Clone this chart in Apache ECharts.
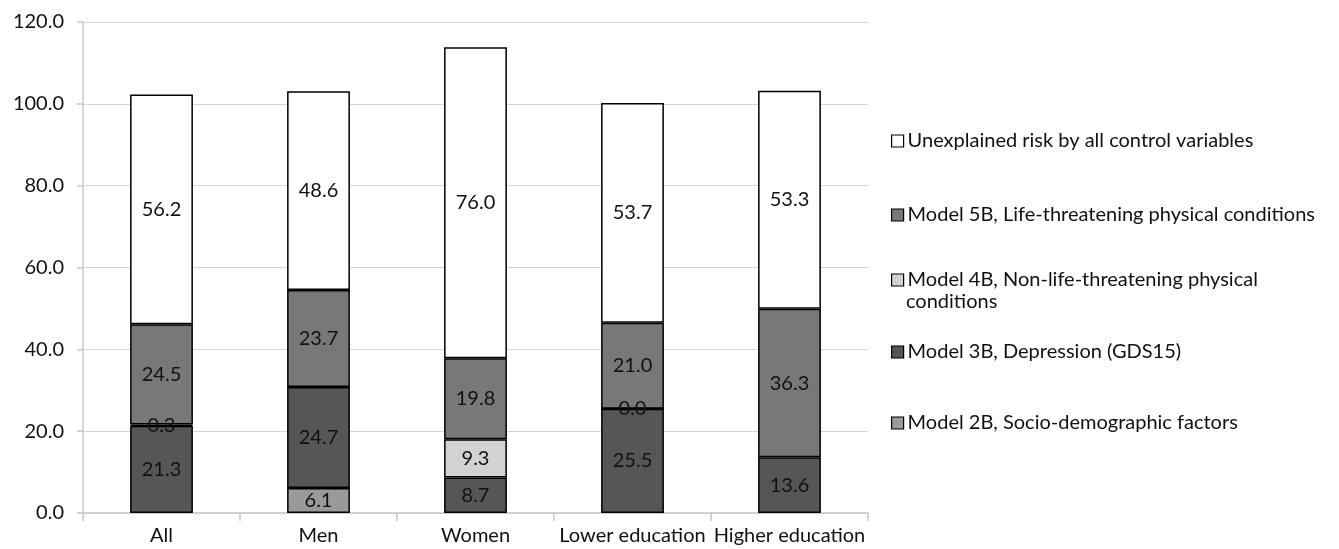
<!DOCTYPE html>
<html>
<head>
<meta charset="utf-8">
<script src="https://cdn.jsdelivr.net/npm/echarts@6/dist/echarts.min.js"></script>
<style>html,body{margin:0;padding:0;background:#fff}#c{width:1339px;height:549px}</style>
</head>
<body>
<div id="c"></div>
<script>
var categories = ['All', 'Men', 'Women', 'Lower education', 'Higher education'];
var socioDemographic = [null, 6.1, null, null, null];
var depression = [21.3, 24.7, 8.7, 25.5, 13.6];
var nonLifeThreatening = [0.3, null, 9.3, 0.0, null];
var lifeThreatening = [24.5, 23.7, 19.8, 21.0, 36.3];
var unexplained = [56.2, 48.6, 76.0, 53.7, 53.3];
var yTicks = [0, 20, 40, 60, 80, 100, 120];

var names = [
  'Model 2B, Socio-demographic factors',
  'Model 3B, Depression (GDS15)',
  'Model 4B, Non-life-threatening physical conditions',
  'Model 5B, Life-threatening physical conditions',
  'Unexplained risk by all control variables'
];
var values = [socioDemographic, depression, nonLifeThreatening, lifeThreatening, unexplained];
var colors = ['#9a9a9a', '#565656', '#d2d2d2', '#787878', '#ffffff'];
var FONT = 'Lato';
var FS = 20;

var series = names.map(function (n, i) {
  return {
    name: n,
    type: 'bar',
    stack: 'total',
    barWidth: '40%',
    data: values[i],
    itemStyle: { color: colors[i], borderColor: '#000', borderWidth: 1.5 },
    label: {
      show: true,
      position: 'inside',
      color: '#111',
      fontFamily: FONT,
      fontSize: FS,
      formatter: function (p) { return p.value == null ? '' : Number(p.value).toFixed(1); }
    }
  };
});

var legendOrder = [4, 3, 2, 1, 0];
var legendCenters = [139, 213, 278, 350, 421];
var legendTexts = { 2: 'Model 4B, Non-life-threatening physical' };
var legends = legendOrder.map(function (idx, k) {
  return {
    data: [names[idx]],
    left: 886,
    top: legendCenters[k] - 13,
    itemWidth: 12,
    itemHeight: 12,
    itemGap: 0,
    icon: 'rect',
    selectedMode: false,
    itemStyle: { borderColor: '#000', borderWidth: 1.2 },
    textStyle: { fontFamily: FONT, fontSize: FS, color: '#111', padding: [0, 0, 0, -1] },
    formatter: function (n) { return legendTexts[idx] || n; }
  };
});

var chart = echarts.init(document.getElementById('c'));
chart.setOption({
  animation: false,
  backgroundColor: '#fff',
  grid: { left: 83, right: 471, top: 22, bottom: 36 },
  legend: legends,
  graphic: [{
    type: 'text',
    left: 906,
    top: 292,
    style: { text: 'conditions', font: FS + 'px Lato', fill: '#111' }
  }],
  xAxis: {
    type: 'category',
    data: categories,
    axisLine: { lineStyle: { color: '#c8c8c8', width: 1.5 } },
    axisTick: { show: true, length: 8, lineStyle: { color: '#c8c8c8', width: 1.5 } },
    axisLabel: { color: '#111', fontFamily: FONT, fontSize: FS, margin: 13, interval: 0 }
  },
  yAxis: {
    type: 'value',
    min: yTicks[0],
    max: yTicks[yTicks.length - 1],
    interval: 20,
    axisLine: { show: true, lineStyle: { color: '#c8c8c8', width: 1.5 } },
    axisTick: { show: true, length: 6, lineStyle: { color: '#c8c8c8', width: 1.5 } },
    splitLine: { lineStyle: { color: '#d6d6d6', width: 1.2 } },
    axisLabel: {
      color: '#111', fontFamily: FONT, fontSize: FS, margin: 19,
      formatter: function (v) { return v.toFixed(1); }
    }
  },
  series: series
});
</script>
</body>
</html>
